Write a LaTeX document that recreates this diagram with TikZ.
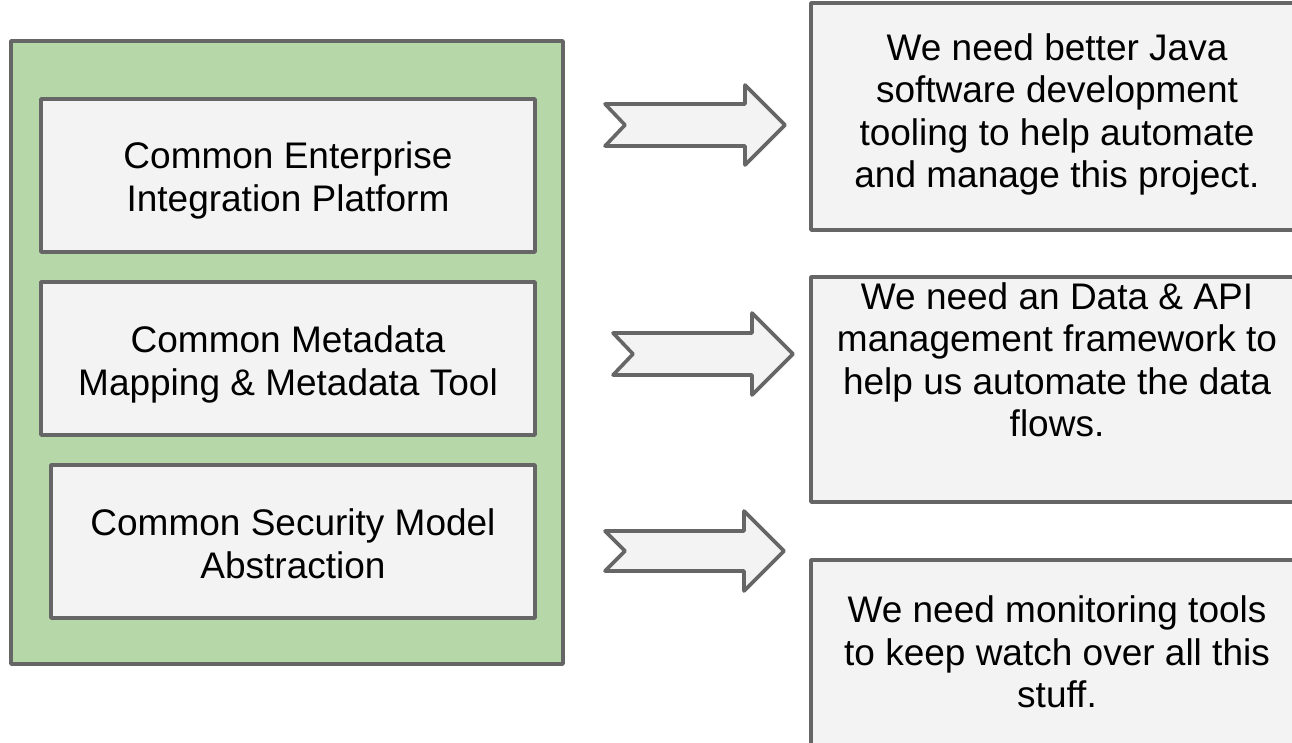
\documentclass[tikz,border=0pt]{standalone}
\usepackage{fontspec}
\setmainfont{Liberation Sans}
\definecolor{greenfill}{HTML}{B6D7A8}
\definecolor{boxfill}{HTML}{F3F3F3}
\definecolor{edge}{HTML}{666666}
\begin{document}
\begin{tikzpicture}[x=1pt,y=-1pt,
  panel/.style={draw=edge,line width=3.6pt,fill=greenfill,line join=round},
  boxr/.style={draw=edge,line width=3.6pt,fill=boxfill,line join=round},
  txt/.style={font=\fontsize{37}{42.5}\selectfont,align=center,inner sep=0pt,
    execute at begin node=\strut,execute at end node=\strut},
  bigarrow/.style={draw=edge,line width=3.6pt,fill=boxfill,line join=round}]
\useasboundingbox (0,0) rectangle (1292,743);
% left green panel
\draw[panel] (11,41) rectangle (563,664);
\draw[boxr] (41,99) rectangle (535,252);
\draw[boxr] (41,282) rectangle (535,435);
\draw[boxr] (51,465) rectangle (535,618);
\node[txt] (l1) at (288,183) {Common Enterprise\\Integration Platform};
\node[txt] (l2) at (288,367) {Common Metadata\\Mapping \& Metadata Tool};
\node[txt] (l3) at (293,550) {Common Security Model\\Abstraction};
% right boxes
\draw[boxr] (811,3) rectangle (1303,230);
\draw[boxr] (811,277) rectangle (1303,502);
\draw[boxr] (811,560) rectangle (1303,760);
\node[txt] (r1) at (1057,117) {We need better Java\\software development\\tooling to help automate\\and manage this project.};
\node[txt] (r2) at (1057,366) {We need an Data \& API\\management framework to\\help us automate the data\\flows.};
\node[txt] (r3) at (1057,658) {We need monitoring tools\\to keep watch over all this\\stuff.};
% arrows
\draw[bigarrow] (605,104) -- (745,104) -- (745,85) -- (785,125) -- (745,165) -- (745,146) -- (605,146) -- (625,125) -- cycle;
\draw[bigarrow] (613,333) -- (752,333) -- (752,313) -- (793,354) -- (752,395) -- (752,375) -- (613,375) -- (633,354) -- cycle;
\draw[bigarrow] (605,531) -- (744,531) -- (744,511) -- (784,551) -- (744,591) -- (744,571) -- (605,571) -- (625,551) -- cycle;
\end{tikzpicture}
\end{document}
